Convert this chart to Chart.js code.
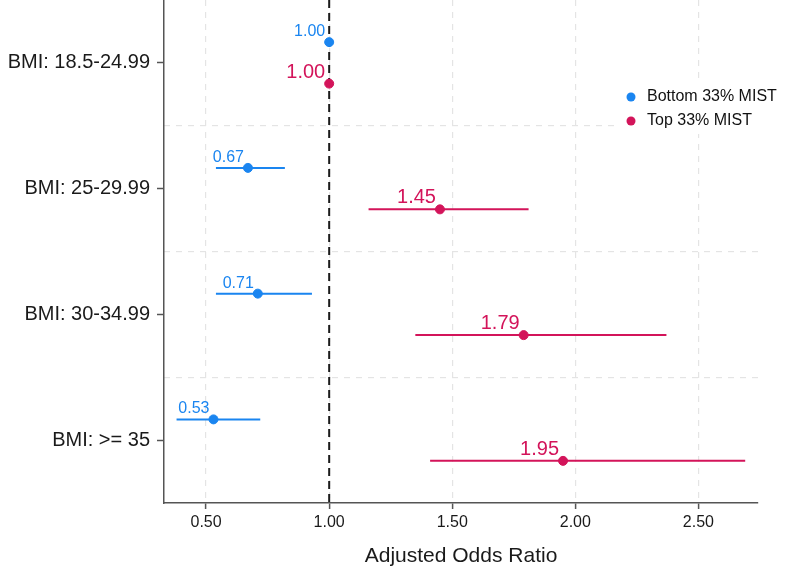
<!DOCTYPE html>
<html>
<head>
<meta charset="utf-8">
<script src="https://cdn.jsdelivr.net/npm/chart.js"></script>
<style>
  html, body { margin: 0; padding: 0; background: #fff; }
  #wrap { width: 786px; height: 576px; }
</style>
</head>
<body>
<div id="wrap"><canvas id="forest" width="786" height="576"></canvas></div>
<script>
// values
const categories = ['BMI: 18.5-24.99', 'BMI: 25-29.99', 'BMI: 30-34.99', 'BMI: >= 35'];
const bottomOR = [1.00, 0.67, 0.71, 0.53];
const bottomLo = [null, 0.54, 0.54, 0.38];
const bottomHi = [null, 0.82, 0.93, 0.72];
const topOR = [1.00, 1.45, 1.79, 1.95];
const topLo = [null, 1.16, 1.35, 1.41];
const topHi = [null, 1.81, 2.37, 2.69];
const xTicks = [0.5, 1.0, 1.5, 2.0, 2.5];
const seriesNames = ['Bottom 33% MIST', 'Top 33% MIST'];

const BLUE = '#1a85f0';
const RED = '#d3145a';
const FONT = "'Liberation Sans', Arial, sans-serif";
const SHIFT = 0.165;

function pts(or, shift) {
  return or.map((v, i) => ({ x: v, y: i + 1 + shift }));
}
function bars(lo, hi, shift) {
  const out = [];
  lo.forEach((v, i) => {
    if (v == null) return;
    out.push({ x: v, y: i + 1 + shift }, { x: hi[i], y: i + 1 + shift }, { x: null, y: null });
  });
  return out;
}

const ctx = document.getElementById('forest');

const valueLabels = {
  id: 'valueLabels',
  afterDatasetsDraw(chart) {
    const c = chart.ctx;
    chart.data.datasets.forEach((ds, di) => {
      if (!ds.valueLabel) return;
      const meta = chart.getDatasetMeta(di);
      c.save();
      c.font = ds.valueLabel.size + 'px ' + FONT;
      c.fillStyle = ds.borderColor;
      c.textAlign = 'right';
      c.textBaseline = 'alphabetic';
      meta.data.forEach((el, i) => {
        c.fillText(ds.data[i].x.toFixed(2), el.x - 4, el.y - 6);
      });
      c.restore();
    });
  }
};

const boxLegend = {
  id: 'boxLegend',
  afterDraw(chart) {
    const c = chart.ctx;
    const colors = [BLUE, RED];
    c.save();
    c.fillStyle = '#fff';
    c.fillRect(618, 80, 168, 54);
    c.font = '16px ' + FONT;
    c.textBaseline = 'middle';
    c.textAlign = 'left';
    seriesNames.forEach((n, i) => {
      const y = 97 + i * 24;
      c.fillStyle = colors[i];
      c.beginPath();
      c.arc(631, y, 4.5, 0, Math.PI * 2);
      c.fill();
      c.fillStyle = '#111';
      c.fillText(n, 647, y);
    });
    c.restore();
  }
};

new Chart(ctx, {
  type: 'scatter',
  data: {
    datasets: [
      {
        label: 'ref',
        order: 3,
        data: [{ x: 1, y: 0.5 }, { x: 1, y: 4.5 }],
        showLine: true,
        borderColor: '#1b1b1b',
        borderWidth: 2,
        borderDash: [8, 5],
        pointRadius: 0
      },
      {
        label: 'bottom ci',
        order: 2,
        data: bars(bottomLo, bottomHi, -SHIFT),
        showLine: true,
        spanGaps: false,
        borderColor: BLUE,
        borderWidth: 2,
        pointRadius: 0
      },
      {
        label: 'top ci',
        order: 2,
        data: bars(topLo, topHi, SHIFT),
        showLine: true,
        spanGaps: false,
        borderColor: RED,
        borderWidth: 2,
        pointRadius: 0
      },
      {
        label: seriesNames[0],
        order: 1,
        data: pts(bottomOR, -SHIFT),
        backgroundColor: BLUE,
        borderColor: BLUE,
        pointRadius: 4.5,
        valueLabel: { size: 16 }
      },
      {
        label: seriesNames[1],
        order: 1,
        data: pts(topOR, SHIFT),
        backgroundColor: RED,
        borderColor: RED,
        pointRadius: 4.5,
        valueLabel: { size: 20 }
      }
    ]
  },
  options: {
    responsive: false,
    animation: false,
    layout: { autoPadding: false, padding: { top: 0, right: 28, left: 0, bottom: 0 } },
    plugins: {
      legend: { display: false },
      tooltip: { enabled: false }
    },
    scales: {
      x: {
        type: 'linear',
        min: 0.329,
        max: 2.742,
        afterBuildTicks: s => { s.ticks = xTicks.map(v => ({ value: v })); },
        afterFit: s => { s.height = 73; },
        ticks: {
          callback: v => v.toFixed(2),
          color: '#1a1a1a',
          font: { family: FONT, size: 16 },
          padding: 4
        },
        grid: {
          color: '#e4e4e4',
          lineWidth: 1.2,
          tickColor: '#555',
          tickLength: 6,
          tickWidth: 1.5
        },
        border: { color: '#555', width: 1.5, dash: [6, 6] },
        title: {
          display: true,
          text: 'Adjusted Odds Ratio',
          color: '#1a1a1a',
          font: { family: FONT, size: 21 },
          padding: { top: 2, bottom: 7 }
        }
      },
      y: {
        type: 'linear',
        min: 0.5,
        max: 4.5,
        reverse: true,
        afterBuildTicks: s => { s.ticks = categories.map((c, i) => ({ value: i + 1 })); },
        afterFit: s => { s.width = 164; s.paddingTop = 0; s.paddingBottom = 0; },
        ticks: {
          callback: v => categories[v - 1],
          color: '#1a1a1a',
          font: { family: FONT, size: 20 },
          padding: 7
        },
        grid: {
          drawOnChartArea: false,
          tickColor: '#555',
          tickLength: 7,
          tickWidth: 1.5
        },
        border: { color: '#555', width: 1.5 }
      },
      yGrid: {
        type: 'linear',
        position: 'right',
        min: 0.5,
        max: 4.5,
        reverse: true,
        afterBuildTicks: s => { s.ticks = [1.5, 2.5, 3.5].map(v => ({ value: v })); },
        afterFit: s => { s.width = 0; s.paddingTop = 0; s.paddingBottom = 0; },
        ticks: { display: false },
        grid: { color: '#e4e4e4', lineWidth: 1.2, drawTicks: false },
        border: { display: false, dash: [6, 6] }
      }
    }
  },
  plugins: [valueLabels, boxLegend]
});
</script>
</body>
</html>
